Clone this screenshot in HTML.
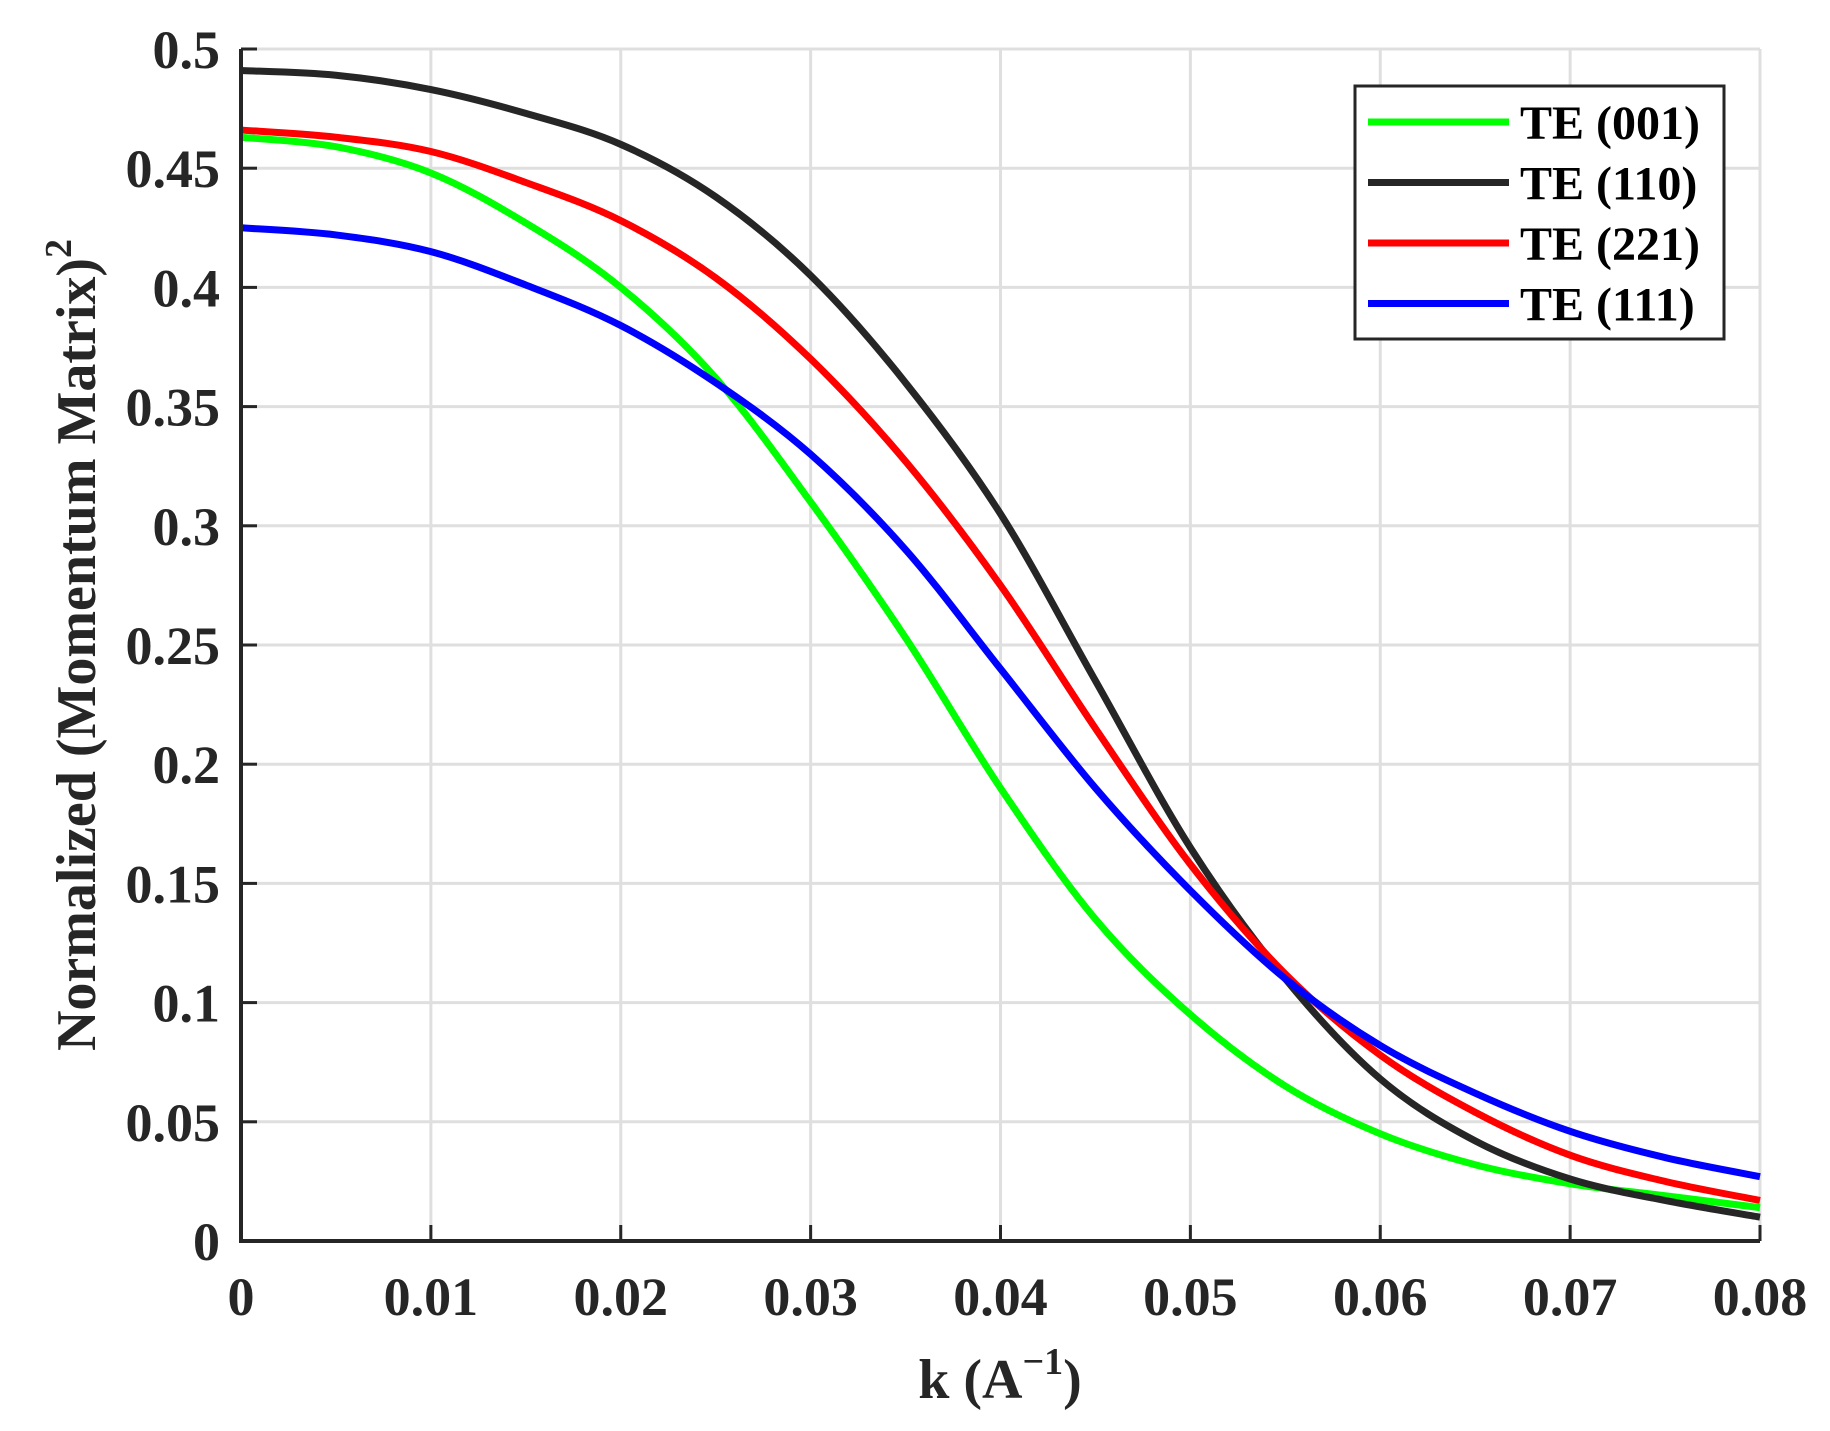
<!DOCTYPE html>
<html><head><meta charset="utf-8"><style>
body{margin:0;background:#fff}
svg text{font-family:"Liberation Serif","Times New Roman",serif;font-weight:bold;fill:#262626}
</style></head><body>
<svg id="chart" width="1830" height="1426" viewBox="0 0 1830 1426" xmlns="http://www.w3.org/2000/svg">
<g id="grid"></g>
<g id="series"></g>
<g id="axes"></g>
<text x="1000" y="1398" font-size="56" text-anchor="middle">k (A<tspan font-size="38" dy="-24">−1</tspan><tspan dy="24">)</tspan></text>
<text transform="translate(95,645) rotate(-90)" font-size="56" text-anchor="middle">Normalized (Momentum Matrix)<tspan font-size="38" dy="-24">2</tspan></text>
<g id="legend">
<rect x="1355" y="86" width="369" height="253" fill="#fff" stroke="#262626" stroke-width="3"/>
</g>
</svg>
<script>
const xTicks=[0,0.01,0.02,0.03,0.04,0.05,0.06,0.07,0.08];
const xTickLabels=["0","0.01","0.02","0.03","0.04","0.05","0.06","0.07","0.08"];
const yTicks=[0,0.05,0.1,0.15,0.2,0.25,0.3,0.35,0.4,0.45,0.5];
const yTickLabels=["0","0.05","0.1","0.15","0.2","0.25","0.3","0.35","0.4","0.45","0.5"];
const kValues=[0,0.005,0.01,0.015,0.02,0.025,0.03,0.035,0.04,0.045,0.05,0.055,0.06,0.065,0.07,0.075,0.08];
const te001=[0.463,0.459,0.448,0.427,0.40,0.362,0.31,0.253,0.19,0.135,0.095,0.065,0.045,0.032,0.024,0.019,0.014];
const te110=[0.491,0.489,0.483,0.473,0.46,0.438,0.405,0.36,0.305,0.235,0.165,0.11,0.068,0.042,0.026,0.017,0.010];
const te221=[0.466,0.463,0.457,0.444,0.428,0.404,0.37,0.327,0.275,0.215,0.158,0.112,0.078,0.054,0.036,0.025,0.017];
const te111=[0.425,0.422,0.415,0.401,0.384,0.36,0.33,0.29,0.24,0.19,0.147,0.11,0.082,0.062,0.046,0.035,0.027];
const seriesNames=["TE (001)","TE (110)","TE (221)","TE (111)"];
const seriesColors=["#00ff00","#262626","#ff0000","#0000ff"];
const seriesData=[te001,te110,te221,te111];

const L=241,R=1760,T=49,B=1241;
const X=v=>L+(v-0)/(0.08)*(R-L);
const Y=v=>B-(v/0.5)*(B-T);
const NS="http://www.w3.org/2000/svg";
function mk(tag,attrs,parent){const e=document.createElementNS(NS,tag);for(const k in attrs)e.setAttribute(k,attrs[k]);parent.appendChild(e);return e;}
const grid=document.getElementById('grid'),axes=document.getElementById('axes'),ser=document.getElementById('series'),leg=document.getElementById('legend');
xTicks.forEach((t,i)=>{
 const g=mk('line',{x1:X(t),x2:X(t),y1:T,y2:B,stroke:'#dfdfdf','stroke-width':3},grid);
 
 
 const tk=mk('line',{x1:X(t),x2:X(t),y1:B,y2:B-16,stroke:'#262626','stroke-width':3},axes);
 
 
 const tx=mk('text',{x:X(t),y:1315,'font-size':54,'text-anchor':'middle'},axes);
 tx.textContent=xTickLabels[i];
 
 
});
yTicks.forEach((t,i)=>{
 const g=mk('line',{x1:L,x2:R,y1:Y(t),y2:Y(t),stroke:'#dfdfdf','stroke-width':3},grid);
 
 
 const tk=mk('line',{x1:L,x2:L+16,y1:Y(t),y2:Y(t),stroke:'#262626','stroke-width':3},axes);
 
 
 const tx=mk('text',{x:220,y:Y(t)+19,'font-size':54,'text-anchor':'end'},axes);
 tx.textContent=yTickLabels[i];
 
 
});
const ax=mk('path',{d:`M${L} ${T}V${B}H${R}`,fill:'none',stroke:'#262626','stroke-width':4},axes);


function smooth(pts){let d=`M${pts[0][0]} ${pts[0][1]}`;for(let i=0;i<pts.length-1;i++){const p0=pts[Math.max(0,i-1)],p1=pts[i],p2=pts[i+1],p3=pts[Math.min(pts.length-1,i+2)];
 const c1=[p1[0]+(p2[0]-p0[0])/6,p1[1]+(p2[1]-p0[1])/6],c2=[p2[0]-(p3[0]-p1[0])/6,p2[1]-(p3[1]-p1[1])/6];
 d+=`C${c1[0]} ${c1[1]} ${c2[0]} ${c2[1]} ${p2[0]} ${p2[1]}`;}return d;}
seriesData.forEach((vals,s)=>{
 const pts=kValues.map((k,i)=>[X(k),Y(vals[i])]);
 const p=mk('path',{d:smooth(pts),fill:'none',stroke:seriesColors[s],'stroke-width':7},ser);
 
 
 const ly=122+s*60.5;
 const ll=mk('line',{x1:1368,x2:1509,y1:ly,y2:ly,stroke:seriesColors[s],'stroke-width':7},leg);
 
 
 const lt=mk('text',{x:1520,y:ly+17,'font-size':48,style:'fill:#000'},leg);
 lt.textContent=seriesNames[s];
 
 
});
</script>
</body></html>
